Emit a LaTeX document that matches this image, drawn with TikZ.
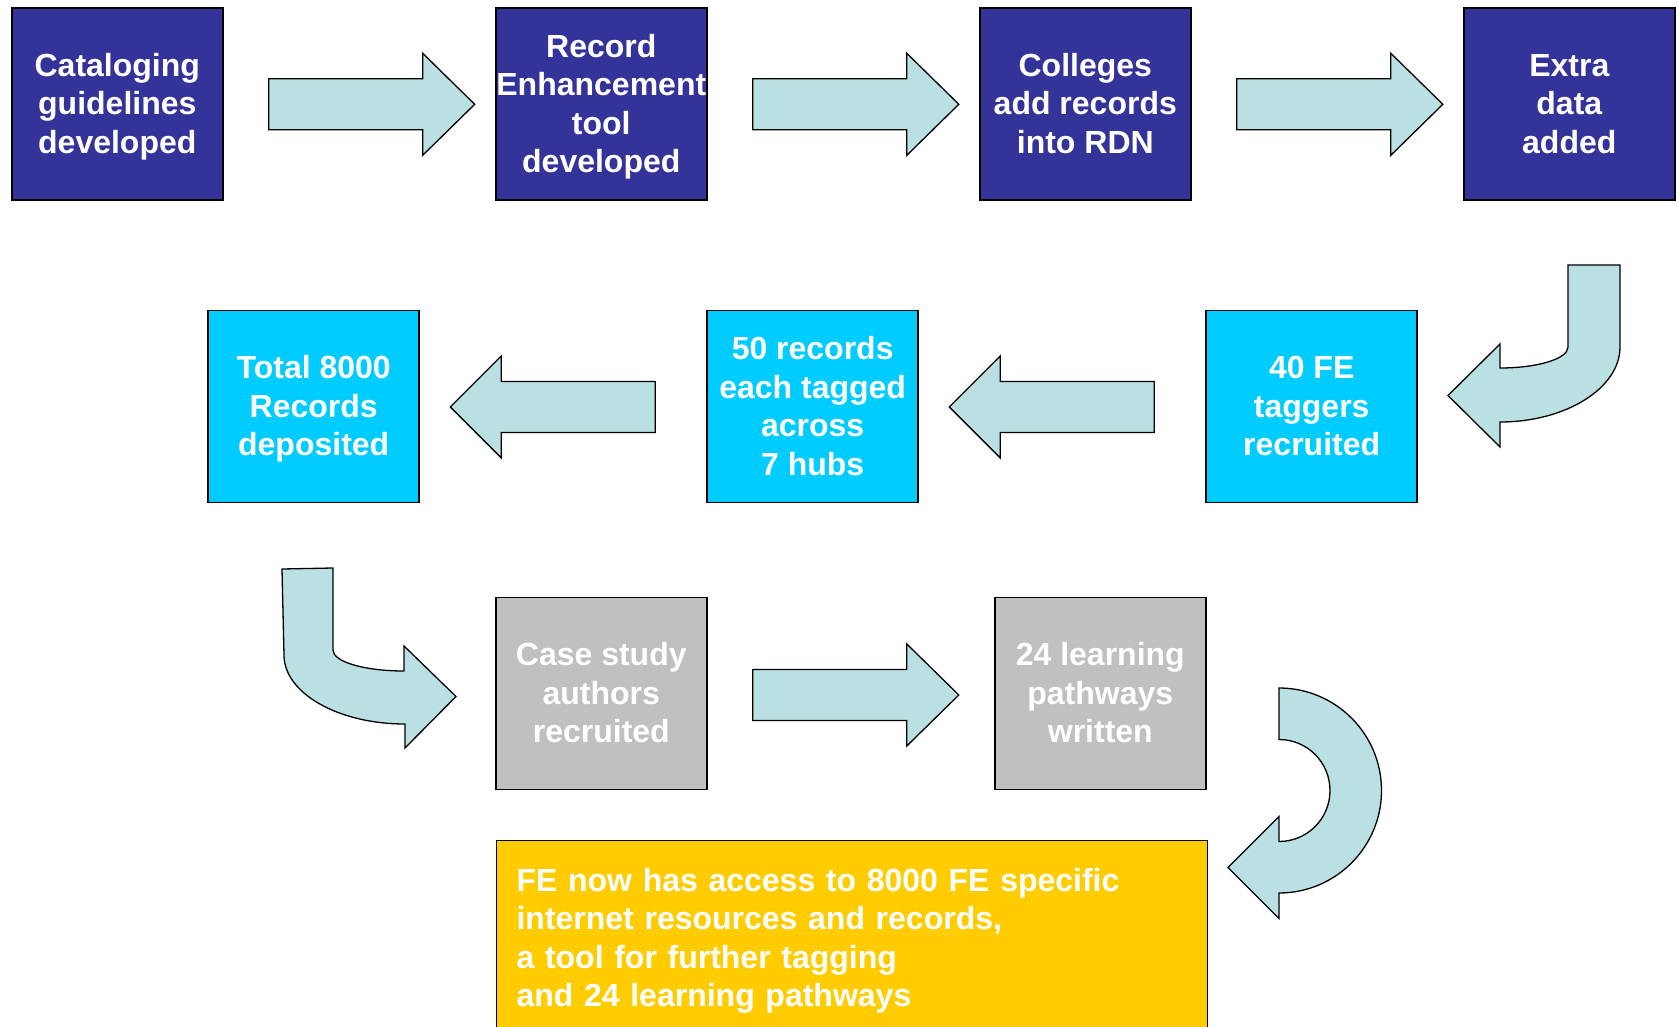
\documentclass[tikz,border=0pt]{standalone}
\usepackage{fontspec}
\setmainfont{Liberation Sans}
\definecolor{navyc}{HTML}{333399}
\definecolor{cyanc}{HTML}{00CCFF}
\definecolor{grayc}{HTML}{C0C0C0}
\definecolor{goldc}{HTML}{FFCC00}
\definecolor{arrowc}{HTML}{BBE0E3}
\newcommand{\tstrut}{\rule{0pt}{30pt}}
\tikzset{
  box/.style={draw=black, line width=1.5pt, minimum width=211pt, minimum height=192pt,
    inner sep=0pt, align=center, text=white, font=\bfseries\fontsize{32}{38.5}\selectfont,
    execute at end node={\rule[-8pt]{0pt}{8pt}}},
  navybox/.style={box, fill=navyc},
  cyanbox/.style={box, fill=cyanc},
  graybox/.style={box, fill=grayc},
  finalbox/.style={box, fill=goldc, align=left, text width=671pt, inner xsep=20pt,
    inner ysep=0pt, minimum width=711pt, minimum height=195pt},
  barrow/.style={fill=arrowc, draw=black, line width=1.3pt, line join=miter},
  rarrow/.pic={\path[barrow] (0,-25.5) -- (154,-25.5) -- (154,-51) -- (206,0) -- (154,51) -- (154,25.5) -- (0,25.5) -- cycle;},
  larrow/.pic={\path[barrow] (0,-25.5) -- (-154,-25.5) -- (-154,-51) -- (-205,0) -- (-154,51) -- (-154,25.5) -- (0,25.5) -- cycle;}
}
\begin{document}
\begin{tikzpicture}[x=1pt, y=-1pt]
\clip (0,0) rectangle (1679,1027);
\fill[white] (0,0) rectangle (1679,1027);
% row 1
\node[navybox] (b1) at (117.3,104) {\tstrut Cataloging\\guidelines\\developed};
\node[navybox] (b2) at (601.3,104) {\tstrut Record\\Enhancement\\tool\\developed};
\node[navybox] (b3) at (1085.3,104) {\tstrut Colleges\\add records\\into RDN};
\node[navybox] (b4) at (1569.3,104) {\tstrut Extra\\data\\added};
% row 2
\node[cyanbox] (c1) at (1311.7,406.4) {\tstrut 40 FE\\taggers\\recruited};
\node[cyanbox] (c2) at (812.7,406.4) {\tstrut 50 records\\each tagged\\across\\7 hubs};
\node[cyanbox] (c3) at (313.7,406.4) {\tstrut Total 8000\\Records\\deposited};
% row 3
\node[graybox] (g1) at (601.3,693.4) {\tstrut Case study\\authors\\recruited};
\node[graybox] (g2) at (1100.3,693.4) {\tstrut 24 learning\\pathways\\written};
% final
\node[finalbox, anchor=north west] (final) at (495.8,839.5)
  {\tstrut FE now has access to 8000 FE specific\\internet resources and records,\\a tool for further tagging\\and 24 learning pathways};
% straight block arrows
\pic at (268.7,104.3) {rarrow};
\pic at (752.8,104.3) {rarrow};
\pic at (1236.8,104.3) {rarrow};
\pic at (1154.3,406.9) {larrow};
\pic at (655.3,406.9) {larrow};
\pic at (752.8,695) {rarrow};
% curved arrow: Extra data -> 40 FE
\path[barrow] (1568,265) -- (1620,265) -- (1620,347)
  .. controls (1620,388) and (1566,422) .. (1500,422)
  -- (1500,447) -- (1448,395.5) -- (1500,344) -- (1500,368)
  .. controls (1537,368) and (1568,359) .. (1568,347) -- cycle;
% curved arrow: Total 8000 -> Case study
\path[barrow] (282,569) -- (333,568) -- (333,650)
  .. controls (333,662) and (365,671) .. (404,671)
  -- (404,646) -- (456,696.5) -- (405,748) -- (405,724)
  .. controls (338,724) and (284,693) .. (284,655) -- cycle;
% curved arrow: 24 learning -> final
\path[barrow] (1279,688)
  .. controls (1335.6,688) and (1381.5,733.9) .. (1381.5,790.5)
  .. controls (1381.5,847.1) and (1335.6,893) .. (1279,893)
  -- (1279,918.5) -- (1228,867.5) -- (1279,816.5) -- (1279,841.5)
  .. controls (1307.2,841.5) and (1330,818.7) .. (1330,790.5)
  .. controls (1330,762.3) and (1307.2,739.5) .. (1279,739.5) -- cycle;
\end{tikzpicture}
\end{document}
